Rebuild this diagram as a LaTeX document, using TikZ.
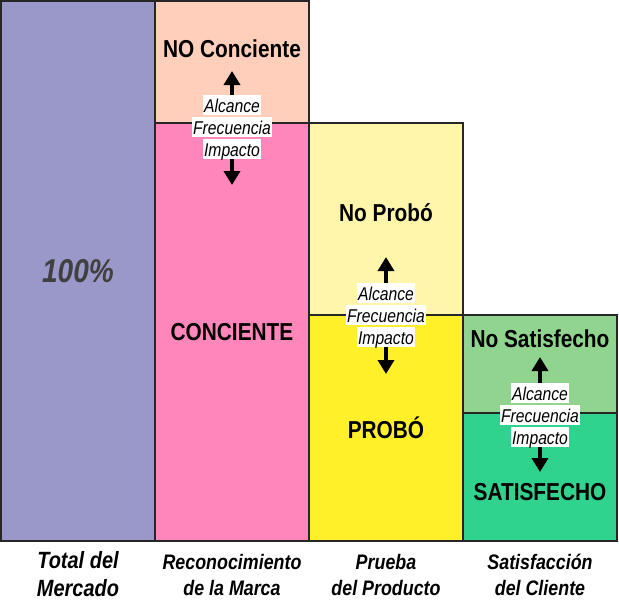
\documentclass[tikz,border=0pt]{standalone}
\usepackage{fontspec}
\setmainfont{Liberation Sans}
\newfontfamily\narrowb[FakeStretch=0.85]{Liberation Sans}
\usetikzlibrary{arrows.meta}
\definecolor{cMarket}{HTML}{9A98C8}
\definecolor{cNoAware}{HTML}{FFCFBC}
\definecolor{cAware}{HTML}{FF86BA}
\definecolor{cNoTry}{HTML}{FFF6AC}
\definecolor{cTry}{HTML}{FFF02A}
\definecolor{cNoSat}{HTML}{90D490}
\definecolor{cSat}{HTML}{2FD38E}
\tikzset{
  block/.style={draw=black!85,line width=1.8pt,inner sep=0pt,outer sep=0pt,anchor=north west},
  head/.style={font=\narrowb\fontsize{24.5}{26}\selectfont\bfseries,text=black},
  lever/.style={font=\narrowb\fontsize{18.5}{20}\selectfont\itshape,fill=white,inner xsep=1pt,inner ysep=0pt,text height=17pt,text depth=3pt},
  axis small/.style={font=\narrowb\fontsize{21}{26}\selectfont\bfseries\itshape,align=center,inner sep=0pt},
  force/.style={-{Triangle[length=14pt,width=16pt]},line width=3.6pt,black}
}
\begin{document}
\begin{tikzpicture}[x=1pt,y=-1pt]
\useasboundingbox (0,0) rectangle (619,600);
% blocks
\node[block,fill=cMarket,minimum width=154pt,minimum height=540pt] (market) at (1,1) {};
\node[block,fill=cNoAware,minimum width=154pt,minimum height=122pt] (noaware) at (155,1) {};
\node[block,fill=cAware,minimum width=154pt,minimum height=418pt] (aware) at (155,123) {};
\node[block,fill=cNoTry,minimum width=154pt,minimum height=192pt] (notry) at (309,123) {};
\node[block,fill=cTry,minimum width=154pt,minimum height=226pt] (try) at (309,315) {};
\node[block,fill=cNoSat,minimum width=154pt,minimum height=98pt] (nosat) at (463,315) {};
\node[block,fill=cSat,minimum width=154pt,minimum height=128pt] (sat) at (463,413) {};
% headings
\node[font=\narrowb\fontsize{33}{36}\selectfont\bfseries\itshape,text=black!75] (pct) at (78,271) {100\%};
\node[head] (h1) at (232,49) {NO Conciente};
\node[head] (h2) at (232,332) {CONCIENTE};
\node[head] (h3) at (386,213) {No Probó};
\node[head] (h4) at (386,428) {PROBÓ};
\node[head] (h5) at (540,339) {No Satisfecho};
\node[head] (h6) at (540,492) {SATISFECHO};
% levers: column 2
\node[lever] (a1) at (232,105) {Alcance};
\node[lever] (f1) at (232,127) {Frecuencia};
\node[lever] (i1) at (232,149) {Impacto};
\coordinate (u1) at (232,71); \coordinate (d1) at (232,185);
\draw[force] (a1.north) -- (u1);
\draw[force] (i1.south) -- (d1);
% levers: column 3
\node[lever] (a2) at (386,293) {Alcance};
\node[lever] (f2) at (386,315) {Frecuencia};
\node[lever] (i2) at (386,337) {Impacto};
\coordinate (u2) at (386,257); \coordinate (d2) at (386,374);
\draw[force] (a2.north) -- (u2);
\draw[force] (i2.south) -- (d2);
% levers: column 4
\node[lever] (a3) at (540,393) {Alcance};
\node[lever] (f3) at (540,415) {Frecuencia};
\node[lever] (i3) at (540,437) {Impacto};
\coordinate (u3) at (540,357); \coordinate (d3) at (540,472);
\draw[force] (a3.north) -- (u3);
\draw[force] (i3.south) -- (d3);
% axis labels
\node[axis small,font=\narrowb\fontsize{23.5}{28}\selectfont\bfseries\itshape] (l1) at (78,574) {Total del\\Mercado};
\node[axis small] (l2) at (232,575) {Reconocimiento\\de la Marca};
\node[axis small] (l3) at (386,575) {Prueba\\del Producto};
\node[axis small] (l4) at (540,575) {Satisfacción\\del Cliente};
\end{tikzpicture}
\end{document}
